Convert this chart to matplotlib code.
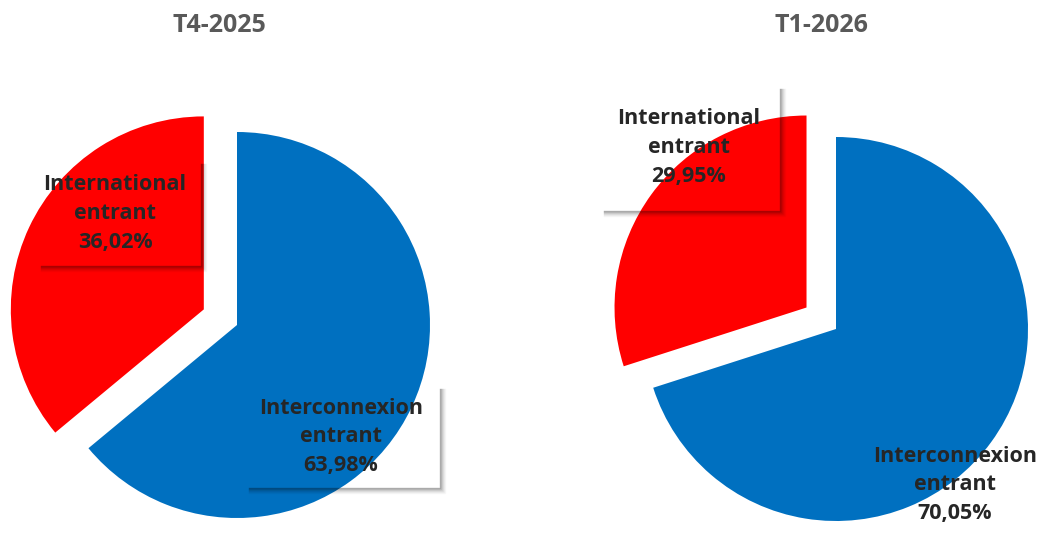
import matplotlib.pyplot as plt

# data
periodes = ["T4-2025", "T1-2026"]
categories = ["Interconnexion\nentrant", "International\nentrant"]
interconnexion = [63.98, 70.05]
international = [36.02, 29.95]

couleurs = ["#0070C0", "#FF0000"]

W, H = 1056, 544
fig = plt.figure(figsize=(W / 100, H / 100), dpi=100)
fig.patch.set_facecolor("white")

plt.rcParams["font.family"] = ["Open Sans", "DejaVu Sans"]

# pie centre (px), radius (px), explode, title x, label positions (px)
layout = [
    dict(cx=237, cy=325, r=193, explode=0.19, tx=219,
         lab=[(341, 437), (115, 214)],
         shadows=[(245, 440, 385, 488), (37, 201, 160, 266)]),
    dict(cx=836, cy=329, r=192, explode=0.19, tx=821,
         lab=[(955, 485), (689, 148)],
         shadows=[None, (600, 780, 85, 211)]),
]

L = 1.35
for i, p in enumerate(layout):
    s = p["r"] * L
    ax = fig.add_axes([(p["cx"] - s) / W, (H - p["cy"] - s) / H, 2 * s / W, 2 * s / H])
    vals = [interconnexion[i], international[i]]
    ax.pie(vals, colors=couleurs, startangle=90, counterclock=False,
           explode=[0, p["explode"]], radius=1,
           wedgeprops=dict(linewidth=0))
    ax.set_xlim(-L, L)
    ax.set_ylim(-L, L)
    ax.set_aspect("equal")
    ax.axis("off")

    fig.text(p["tx"] / W, 1 - 25 / H, periodes[i], ha="center", va="center",
             fontsize=18, fontweight="bold", color="#595959")

    for j, (lx, ly) in enumerate(p["lab"]):
        txt = f"{categories[j]}\n{vals[j]:.2f}%".replace(".", ",")
        fig.text(lx / W, 1 - ly / H, txt, ha="center", va="center",
                 fontsize=15.5, fontweight="bold", color="#262626",
                 linespacing=1.5)
        sh = p["shadows"][j]
        if sh is not None:
            x0, x1, y0, y1 = sh
            for k, a in zip(range(6), [0.3, 0.22, 0.15, 0.1, 0.06, 0.03]):
                fig.add_artist(plt.Line2D(
                    [(x1 + k) / W, (x1 + k) / W, (x0 + 4) / W],
                    [1 - (y0 + 4) / H, 1 - (y1 + k) / H, 1 - (y1 + k) / H],
                    transform=fig.transFigure, color="black", alpha=a, lw=1.0))

fig.savefig("out.png", dpi=100)
